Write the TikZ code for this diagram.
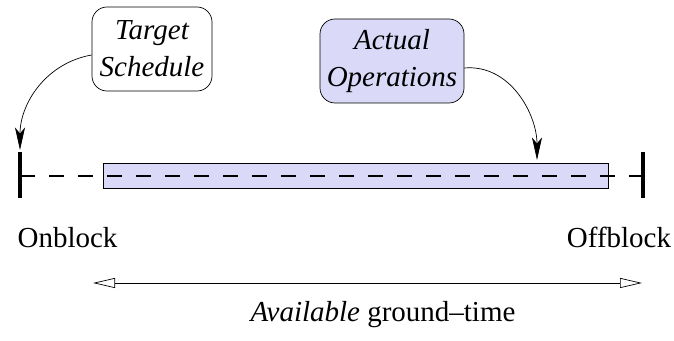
\documentclass[tikz,border=0pt]{standalone}
\usepackage{fontspec}
\setmainfont{Liberation Serif}
\usetikzlibrary{arrows.meta}
\definecolor{opsblue}{RGB}{218,218,248}

\begin{document}
\begin{tikzpicture}[
    every node/.style={font=\fontsize{16.5}{21}\selectfont},
    box/.style={draw, rounded corners=0.3cm, align=center, inner sep=0,
      minimum height=1.68cm, font=\fontsize{16.5}{21}\selectfont\itshape},
    blocktick/.style={line width=2.8pt},
    curvearrow/.style={-{Stealth[length=0.45cm, width=0.2cm, inset=0.12cm]}, thin}
  ]
  \useasboundingbox (0,0) rectangle (13.48,6.82);

  % the bar of the operations
  \node [draw, fill=opsblue, thin, minimum width=10.1cm, minimum height=0.5cm, inner sep=0] (ops) at (7.11,3.31) {};

  % block times
  \coordinate (on) at (0.4,3.30);
  \coordinate (off) at (12.86,3.30);
  \draw [blocktick] (0.4,2.86) -- (0.4,3.78);
  \draw [blocktick] (12.86,2.86) -- (12.86,3.78);
  \draw [line width=1.3pt, dash pattern=on 0.3cm off 0.28cm] (on) -- (off);

  \node [anchor=base] (onb) at (1.35,1.86) {Onblock};
  \node [anchor=base] (offb) at (12.38,1.86) {Offblock};

  % boxes
  \node [box, fill=white, minimum width=2.4cm] (target) at (3.04,5.84) {Target\\Schedule};
  \node [box, fill=opsblue, minimum width=2.88cm] (actual) at (7.84,5.6) {Actual\\Operations};

  \coordinate (tt) at (0.4,3.82);
  \coordinate (at) at (10.74,3.62);
  \draw [curvearrow] (target.west) ++(0,-0.12) to[out=190, in=90] (tt);
  \draw [curvearrow] (actual.east) ++(0,-0.14) to[out=5, in=90] (at);

  % ground time
  \coordinate (gl) at (1.86,1.16);
  \coordinate (gr) at (12.84,1.16);
  \draw [{Triangle[open, length=0.44cm, width=0.2cm]}-{Triangle[open, length=0.44cm, width=0.2cm]}, thin] (gl) -- (gr);
  \node [anchor=base] (avail) at (7.66,0.38) {\textit{Available} ground–time};
\end{tikzpicture}
\end{document}
